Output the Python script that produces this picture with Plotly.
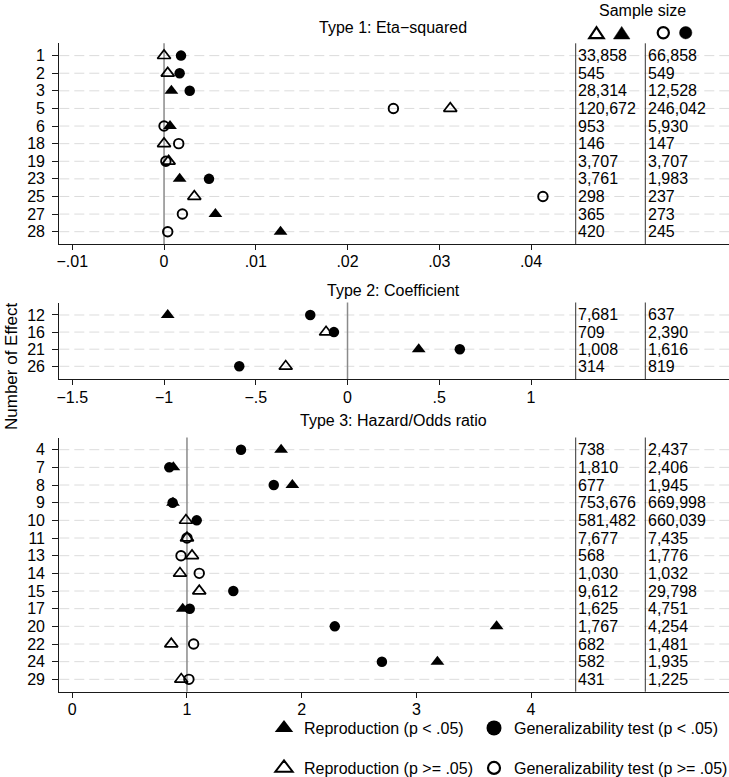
import plotly.graph_objects as go

W, H = 729, 777

# ---------------- DATA ----------------
# Panel 1: Eta-squared
p1_effects = ["1", "2", "3", "5", "6", "18", "19", "23", "25", "27", "28"]
p1_repro = [0.0000, 0.0004, 0.0008, 0.0312, 0.00065, 0.0000, 0.0005, 0.0017, 0.0033, 0.0056, 0.0127]
p1_repro_sig = [0, 0, 1, 0, 1, 0, 0, 1, 0, 1, 1]
p1_gen = [0.00185, 0.0017, 0.0028, 0.0250, 0.0000, 0.0016, 0.0002, 0.0049, 0.0413, 0.0020, 0.0004]
p1_gen_sig = [1, 1, 1, 0, 0, 0, 0, 1, 0, 0, 0]
p1_n_repro = ["33,858", "545", "28,314", "120,672", "953", "146", "3,707", "3,761", "298", "365", "420"]
p1_n_gen = ["66,858", "549", "12,528", "246,042", "5,930", "147", "3,707", "1,983", "237", "273", "245"]
p1_ticks = [-0.01, 0, 0.01, 0.02, 0.03, 0.04]
p1_ticktext = ["\u2212.01", "0", ".01", ".02", ".03", ".04"]

# Panel 2: Coefficient
p2_effects = ["12", "16", "21", "26"]
p2_repro = [-0.980, -0.117, 0.388, -0.337]
p2_repro_sig = [1, 0, 1, 0]
p2_gen = [-0.203, -0.074, 0.612, -0.590]
p2_gen_sig = [1, 1, 1, 1]
p2_n_repro = ["7,681", "709", "1,008", "314"]
p2_n_gen = ["637", "2,390", "1,616", "819"]
p2_ticks = [-1.5, -1, -0.5, 0, 0.5, 1]
p2_ticktext = ["\u22121.5", "\u22121", "\u2212.5", "0", ".5", "1"]

# Panel 3: Hazard/Odds ratio
p3_effects = ["4", "7", "8", "9", "10", "11", "13", "14", "15", "17", "20", "22", "24", "29"]
p3_repro = [1.821, 0.881, 1.919, 0.878, 0.991, 1.000, 1.044, 0.939, 1.107, 0.963, 3.700, 0.863, 3.184, 0.950]
p3_repro_sig = [1, 1, 1, 1, 0, 0, 0, 0, 0, 1, 1, 0, 1, 0]
p3_gen = [1.471, 0.846, 1.757, 0.875, 1.085, 1.000, 0.948, 1.107, 1.404, 1.024, 2.289, 1.058, 2.700, 1.017]
p3_gen_sig = [1, 1, 1, 1, 1, 0, 0, 0, 1, 1, 1, 0, 1, 0]
p3_n_repro = ["738", "1,810", "677", "753,676", "581,482", "7,677", "568", "1,030", "9,612", "1,625",
              "1,767", "682", "582", "431"]
p3_n_gen = ["2,437", "2,406", "1,945", "669,998", "660,039", "7,435", "1,776", "1,032", "29,798", "4,751",
            "4,254", "1,481", "1,935", "1,225"]
p3_ticks = [0, 1, 2, 3, 4]
p3_ticktext = ["0", "1", "2", "3", "4"]

titles = ["Type 1: Eta\u2212squared", "Type 2: Coefficient", "Type 3: Hazard/Odds ratio"]
ref_values = [0, 0, 1]
legend_labels = ["Reproduction (p < .05)", "Generalizability test (p < .05)",
                 "Reproduction (p >= .05)", "Generalizability test (p >= .05)"]

# ---------------- LAYOUT GEOMETRY (pixels) ----------------
FONT = "Liberation Sans, Arial, Helvetica, sans-serif"
X_LEFT, X_RIGHT = 59.3, 729.0
TICK_FIRST_PX, TICK_LAST_PX = 72.3, 531.0
panel_geom = [
    dict(top=43.3, bottom=244.0, pad_top=0.70, pad_bot=0.70, title_y=28),
    dict(top=302.5, bottom=379.3, pad_top=0.73, pad_bot=0.76, title_y=290),
    dict(top=437.5, bottom=691.7, pad_top=0.69, pad_bot=0.70, title_y=420),
]
COL1_LINE, COL2_LINE = 575.7, 645.3
COL1_TEXT, COL2_TEXT = 576.5, 646.2


def fx(px):
    return px / W


def fy(px):
    return 1 - px / H


def dom_x(px):
    return (px - X_LEFT) / (X_RIGHT - X_LEFT)


panels = [
    (p1_effects, p1_repro, p1_repro_sig, p1_gen, p1_gen_sig, p1_n_repro, p1_n_gen, p1_ticks, p1_ticktext),
    (p2_effects, p2_repro, p2_repro_sig, p2_gen, p2_gen_sig, p2_n_repro, p2_n_gen, p2_ticks, p2_ticktext),
    (p3_effects, p3_repro, p3_repro_sig, p3_gen, p3_gen_sig, p3_n_repro, p3_n_gen, p3_ticks, p3_ticktext),
]

MK = {
    "repro_sig": dict(symbol="triangle-up", size=12, color="black", line=dict(width=0)),
    "repro_ns": dict(symbol="triangle-up-open", size=11.5, color="black", line=dict(width=1.7, color="black")),
    "gen_sig": dict(symbol="circle", size=10.5, color="black", line=dict(width=0)),
    "gen_ns": dict(symbol="circle-open", size=9.5, color="black", line=dict(width=1.9, color="black")),
}

fig = go.Figure()
annotations = []
grid_shapes = []
line_shapes = []
layout = dict(
    width=W, height=H,
    margin=dict(l=0, r=0, t=0, b=0, autoexpand=False),
    plot_bgcolor="white", paper_bgcolor="white",
    font=dict(family=FONT, size=16, color="black"),
    showlegend=True,
)

for i, (eff, rep, rsig, gen, gsig, nrep, ngen, ticks, ticktext) in enumerate(panels):
    g = panel_geom[i]
    sfx = "" if i == 0 else str(i + 1)
    xa, ya = "x" + sfx, "y" + sfx
    n = len(eff)
    pos = list(range(n))
    scale = (TICK_LAST_PX - TICK_FIRST_PX) / (ticks[-1] - ticks[0])
    xlo = ticks[0] - (TICK_FIRST_PX - X_LEFT) / scale
    xhi = ticks[0] + (X_RIGHT - TICK_FIRST_PX) / scale

    layout["xaxis" + sfx] = dict(
        domain=[fx(X_LEFT), fx(X_RIGHT)], anchor=ya, range=[xlo, xhi],
        tickmode="array", tickvals=ticks, ticktext=ticktext,
        showgrid=False, zeroline=False, showline=True, linecolor="#1a1a1a", linewidth=1.2,
        ticks="outside", ticklen=5, tickwidth=1.2, tickcolor="#1a1a1a",
        tickfont=dict(size=16, family=FONT, color="black"), automargin=False, fixedrange=True,
        ticklabelstandoff=-2,
    )
    layout["yaxis" + sfx] = dict(
        domain=[fy(g["bottom"]), fy(g["top"])], anchor=xa,
        range=[n - 1 + g["pad_bot"], -g["pad_top"]],
        tickmode="array", tickvals=pos, ticktext=eff,
        showgrid=False, zeroline=False, showline=True, linecolor="#1a1a1a", linewidth=1.2,
        ticks="outside", ticklen=6, tickwidth=1.2, tickcolor="#1a1a1a",
        tickfont=dict(size=16, family=FONT, color="black"), automargin=False, fixedrange=True,
        ticklabelstandoff=4,
    )

    # dashed row gridlines
    for p in pos:
        grid_shapes.append(dict(type="line", xref=xa + " domain", yref=ya, x0=0, x1=1, y0=p, y1=p,
                                line=dict(color="#dcdcdc", width=1, dash="10px,5px"), layer="below"))
    # reference line
    line_shapes.append(dict(type="line", xref=xa, yref=ya + " domain", x0=ref_values[i], x1=ref_values[i],
                            y0=0, y1=1, line=dict(color="#8a8a8a", width=1.5), layer="below"))
    # sample-size column separators
    for cx in (COL1_LINE, COL2_LINE):
        line_shapes.append(dict(type="line", xref=xa + " domain", yref=ya + " domain", x0=dom_x(cx), x1=dom_x(cx),
                                y0=0, y1=1, line=dict(color="#333333", width=1), layer="below"))

    groups = [
        ("repro_sig", [p for p in pos if rsig[p]], rep),
        ("repro_ns", [p for p in pos if not rsig[p]], rep),
        ("gen_sig", [p for p in pos if gsig[p]], gen),
        ("gen_ns", [p for p in pos if not gsig[p]], gen),
    ]
    for key, idx, vals in groups:
        if not idx:
            continue
        fig.add_trace(go.Scatter(
            x=[vals[p] for p in idx], y=idx, xaxis=xa, yaxis=ya, mode="markers",
            marker=MK[key], showlegend=False, hoverinfo="skip", cliponaxis=False,
        ))

    # sample sizes
    for p in pos:
        annotations.append(dict(x=dom_x(COL1_TEXT), xref=xa + " domain", y=p, yref=ya, text=nrep[p],
                                showarrow=False, xanchor="left", yanchor="middle",
                                font=dict(size=16, family=FONT, color="black")))
        annotations.append(dict(x=dom_x(COL2_TEXT), xref=xa + " domain", y=p, yref=ya, text=ngen[p],
                                showarrow=False, xanchor="left", yanchor="middle",
                                font=dict(size=16, family=FONT, color="black")))

    # panel title
    annotations.append(dict(x=fx((X_LEFT + X_RIGHT) / 2 - 1), xref="paper", y=fy(g["title_y"]), yref="paper",
                            text=titles[i], showarrow=False, xanchor="center", yanchor="middle",
                            font=dict(size=16, family=FONT, color="black")))

# y-axis title
annotations.append(dict(x=fx(12), xref="paper", y=fy(366), yref="paper", text="Number of Effect",
                        textangle=-90, showarrow=False, xanchor="center", yanchor="middle",
                        font=dict(size=17, family=FONT, color="black")))
# header
annotations.append(dict(x=fx(642.5), xref="paper", y=fy(10), yref="paper", text="Sample size",
                        showarrow=False, xanchor="center", yanchor="middle",
                        font=dict(size=16, family=FONT, color="black")))


# header symbols (decoration)
def tri_path(cx, cy, w=16.5, h=12.5):
    x1, y1 = fx(cx - w / 2), fy(cy + h / 2)
    x2, y2 = fx(cx + w / 2), fy(cy + h / 2)
    x3, y3 = fx(cx), fy(cy - h / 2)
    return f"M{x1},{y1} L{x2},{y2} L{x3},{y3} Z"


HY = 32.7
hdr_shapes = []
hdr_shapes.append(dict(type="path", xref="paper", yref="paper", path=tri_path(596.5, HY, 14.5, 11),
                       line=dict(color="black", width=2.2), fillcolor="rgba(0,0,0,0)"))
hdr_shapes.append(dict(type="path", xref="paper", yref="paper", path=tri_path(621.7, HY),
                       line=dict(color="black", width=0.5), fillcolor="black"))
r = 5.6
hdr_shapes.append(dict(type="circle", xref="paper", yref="paper", x0=fx(663.3 - r), x1=fx(663.3 + r),
                       y0=fy(HY + r), y1=fy(HY - r), line=dict(color="black", width=2.2)))
r = 6.2
hdr_shapes.append(dict(type="circle", xref="paper", yref="paper", x0=fx(685.7 - r), x1=fx(685.7 + r),
                       y0=fy(HY + r), y1=fy(HY - r), line=dict(color="black", width=0.5), fillcolor="black"))

# legend traces (legend-only entries)
leg_keys = ["repro_sig", "gen_sig", "repro_ns", "gen_ns"]
leg_names = ["legend", "legend2", "legend3", "legend4"]
leg_marker = {
    "repro_sig": dict(symbol="triangle-up", size=16, color="black", line=dict(width=0)),
    "repro_ns": dict(symbol="triangle-up-open", size=15, color="black", line=dict(width=2, color="black")),
    "gen_sig": dict(symbol="circle", size=15, color="black", line=dict(width=0)),
    "gen_ns": dict(symbol="circle-open", size=12, color="black", line=dict(width=2.2, color="black")),
}
leg_pos = [(284, 728), (494, 728), (284, 768), (494, 768)]
for k, name, label, (lx, ly) in zip(leg_keys, leg_names, legend_labels, leg_pos):
    fig.add_trace(go.Scatter(x=[None], y=[None], mode="markers", marker=leg_marker[k], name=label,
                             legend=name, showlegend=True, hoverinfo="skip"))
    layout[name] = dict(x=fx(lx - 20), xanchor="left", y=fy(ly), yanchor="middle", orientation="h",
                        bgcolor="rgba(0,0,0,0)", borderwidth=0, itemsizing="trace",
                        font=dict(size=16, family=FONT, color="black"))

layout["annotations"] = annotations
layout["shapes"] = grid_shapes + line_shapes + hdr_shapes
fig.update_layout(**layout)
fig.write_html("out.html", config={"displayModeBar": False},
               post_script="document.body.style.margin='0';")
